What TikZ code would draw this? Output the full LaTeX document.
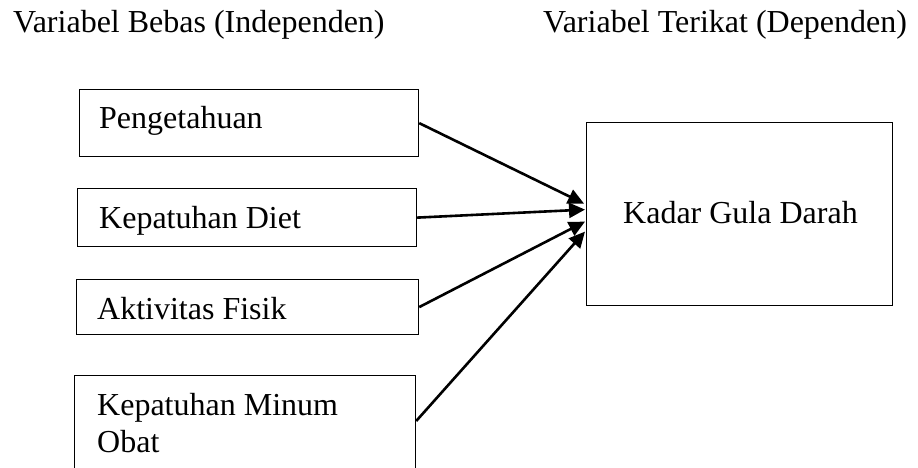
\documentclass[tikz,border=0pt]{standalone}
\usepackage{fontspec}
\setmainfont{Liberation Serif}
\usetikzlibrary{arrows.meta,calc}
\begin{document}
\begin{tikzpicture}[x=1pt,y=-1pt,
  box/.style={draw=black,line width=1.2pt,inner sep=0pt,anchor=north west},
  lbl/.style={inner sep=0pt,anchor=base west,font=\fontsize{32}{37}\selectfont},
  conn/.style={line width=2.6pt,-{Triangle[length=16pt,width=15pt]}}]
\useasboundingbox (0,0) rectangle (918,467);
\fill[white] (0,0) rectangle (918,467);
% titles
\node[lbl] (t1) at (13,32) {Variabel Bebas (Independen)};
\node[lbl] (t2) at (543,32) {Variabel Terikat (Dependen)};
% boxes
\node[box,minimum width=339pt,minimum height=67pt] (b1) at (79,89) {};
\node[box,minimum width=339pt,minimum height=58pt] (b2) at (77,188) {};
\node[box,minimum width=342pt,minimum height=55pt] (b3) at (76,279) {};
\node[box,minimum width=341pt,minimum height=93pt] (b4) at (74,375) {};
\node[box,minimum width=306pt,minimum height=183pt] (k) at (586,122) {};
% labels
\node[lbl] (l1) at (99,128) {Pengetahuan};
\node[lbl] (l2) at (99,228) {Kepatuhan Diet};
\node[lbl] (l3) at (97,319) {Aktivitas Fisik};
\node[lbl] (l4a) at (97,415) {Kepatuhan Minum};
\node[lbl] (l4b) at (97,452) {Obat};
\node[lbl] (lk) at (623,223) {Kadar Gula Darah};
% connectors
\coordinate (s4) at ($(b4.north east)+(0,46)$);
\draw[conn] (b1.east) -- ($(k.west)+(-2,-10.5)$);
\draw[conn] (b2.east) -- ($(k.west)+(-1,-4.5)$);
\draw[conn] (b3.east) -- ($(k.west)+(-1,7.5)$);
\draw[conn] (s4) -- ($(k.west)+(-1,17.5)$);
\end{tikzpicture}
\end{document}
